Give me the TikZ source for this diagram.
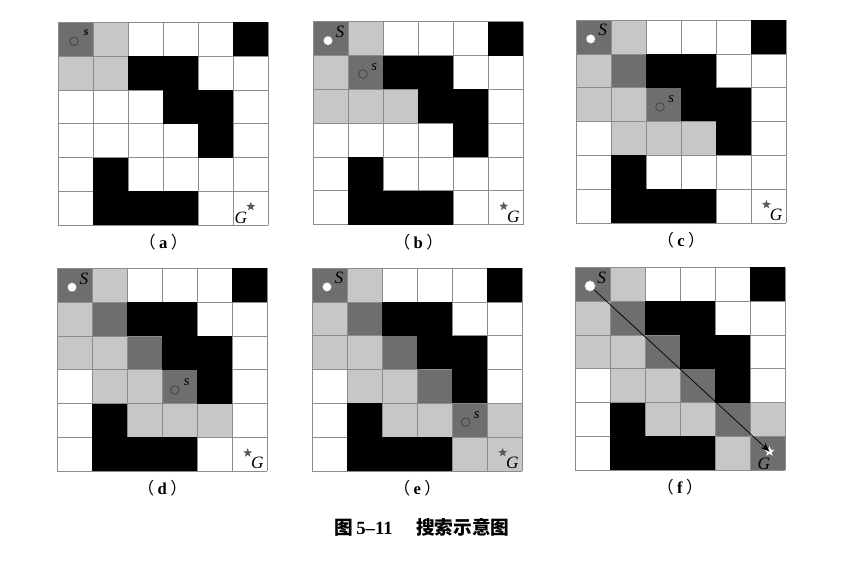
\documentclass[tikz,border=0pt]{standalone}
\usepackage{fontspec}
\setmainfont{Liberation Serif}
\newfontfamily\cjk{Noto Sans CJK SC}
\usetikzlibrary{arrows.meta,shapes.geometric}

% cell (c,r) plus an offset (u,v) inside it, in pixels of the grid
\newcommand{\cellxy}[4]{({(#1+#3)*35},{(#2+#4)*33.8})}

% one search grid: name, top-left corner, dark cells, light cells, markers
\newcommand{\searchgrid}[5]{%
  \begin{scope}[shift={#2}]
    \foreach \r/\c in {#3}
      \fill[trail] (\c*35,\r*33.8) rectangle ++(35,33.8);
    \foreach \r/\c in {#4}
      \fill[seen] (\c*35,\r*33.8) rectangle ++(35,33.8);
    \foreach \i in {0,...,6} {
      \draw[gridln] (\i*35,0) -- (\i*35,202.8);
      \draw[gridln] (0,\i*33.8) -- (210,\i*33.8);
    }
    \foreach \r/\c in {0/5,1/2,1/3,2/3,2/4,3/4,4/1,5/1,5/2,5/3}
      \fill[wall] (\c*35,\r*33.8) rectangle ++(35,33.8);
    #5
    \node[sub] (#1-lab) at (105,220)
         {{\cjk （}\hspace{2.5pt}\textbf{#1}\hspace{2.5pt}{\cjk ）}};
  \end{scope}}

\begin{document}
\begin{tikzpicture}[x=0.75pt, y=-0.75pt,
  wall/.style={fill=black},
  trail/.style={fill=black!57},
  seen/.style={fill=black!22},
  gridln/.style={draw=black!45, line width=0.4pt},
  start/.style={circle, draw=black!50, fill=white, line width=0.3pt,
                inner sep=0pt, minimum size=7pt},
  cur/.style={circle, draw=black!80, line width=0.4pt, inner sep=0pt,
              minimum size=6.5pt},
  goal/.style={star, star points=5, star point ratio=2.4, fill=black!65,
               inner sep=0pt, minimum size=7pt},
  lab/.style={font=\fontsize{13}{13}\selectfont\itshape, inner sep=0pt},
  small/.style={font=\fontsize{11}{11}\selectfont\itshape, inner sep=0pt},
  sub/.style={font=\fontsize{12.5}{12.5}\selectfont, inner sep=0pt},
  arr/.style={-{Stealth[length=2.4mm,width=1.8mm]}, line width=0.55pt}]

\useasboundingbox (0,0) rectangle (868,565);

% ------------------------------------------------------------------ (a)
\searchgrid{a}{(58.3,22.3)}{0/0}{0/1,1/0,1/1}{
  \node[cur] (a-cur) at \cellxy{0}{0}{.45}{.56} {};
  \node[small, font=\fontsize{9}{9}\selectfont\bfseries\itshape] (a-s)
       at \cellxy{0}{0}{.8}{.3} {s};
  \node[goal] (a-goal) at \cellxy{5}{5}{.5}{.45} {};
  \node[lab] (a-g) at \cellxy{5}{5}{.22}{.78} {G};
}

% ------------------------------------------------------------------ (b)
\searchgrid{b}{(313.3,21.7)}{0/0,1/1}{0/1,1/0,2/0,2/1,2/2}{
  \node[start] (b-start) at \cellxy{0}{0}{.42}{.56} {};
  \node[lab] (b-S) at \cellxy{0}{0}{.76}{.3} {S};
  \node[cur] (b-cur) at \cellxy{1}{1}{.42}{.55} {};
  \node[small] (b-s) at \cellxy{1}{1}{.74}{.35} {s};
  \node[goal] (b-goal) at \cellxy{5}{5}{.44}{.46} {};
  \node[lab] (b-g) at \cellxy{5}{5}{.72}{.76} {G};
}

% ------------------------------------------------------------------ (c)
\searchgrid{c}{(576,20)}{0/0,1/1,2/2}{0/1,1/0,2/0,2/1,3/1,3/2,3/3}{
  \node[start] (c-start) at \cellxy{0}{0}{.42}{.56} {};
  \node[lab] (c-S) at \cellxy{0}{0}{.76}{.3} {S};
  \node[cur] (c-cur) at \cellxy{2}{2}{.4}{.57} {};
  \node[small] (c-s) at \cellxy{2}{2}{.72}{.35} {s};
  \node[goal] (c-goal) at \cellxy{5}{5}{.44}{.46} {};
  \node[lab] (c-g) at \cellxy{5}{5}{.72}{.76} {G};
}

% ------------------------------------------------------------------ (d)
\searchgrid{d}{(57.3,268.3)}{0/0,1/1,2/2,3/3}{0/1,1/0,2/0,2/1,3/1,3/2,4/2,4/3,4/4}{
  \node[start] (d-start) at \cellxy{0}{0}{.42}{.56} {};
  \node[lab] (d-S) at \cellxy{0}{0}{.76}{.3} {S};
  \node[cur] (d-cur) at \cellxy{3}{3}{.36}{.6} {};
  \node[small] (d-s) at \cellxy{3}{3}{.7}{.38} {s};
  \node[goal] (d-goal) at \cellxy{5}{5}{.44}{.46} {};
  \node[lab] (d-g) at \cellxy{5}{5}{.72}{.76} {G};
}

% ------------------------------------------------------------------ (e)
\searchgrid{e}{(312.3,268)}{0/0,1/1,2/2,3/3,4/4}{0/1,1/0,2/0,2/1,3/1,3/2,4/2,4/3,4/5,5/4,5/5}{
  \node[start] (e-start) at \cellxy{0}{0}{.42}{.56} {};
  \node[lab] (e-S) at \cellxy{0}{0}{.76}{.3} {S};
  \node[cur] (e-cur) at \cellxy{4}{4}{.38}{.56} {};
  \node[small] (e-s) at \cellxy{4}{4}{.7}{.36} {s};
  \node[goal] (e-goal) at \cellxy{5}{5}{.44}{.46} {};
  \node[lab] (e-g) at \cellxy{5}{5}{.72}{.76} {G};
}

% ------------------------------------------------------------------ (f)
\searchgrid{f}{(575,267.3)}{0/0,1/1,2/2,3/3,4/4,5/5}{0/1,1/0,2/0,2/1,3/1,3/2,4/2,4/3,4/5,5/4}{
  \node[lab] (f-S) at \cellxy{0}{0}{.76}{.3} {S};
  \node[lab] (f-g) at \cellxy{5}{5}{.4}{.8} {G};
}
\node[start, minimum size=8pt] (f-start) at (590,286) {};
\node[goal, fill=white, minimum size=8pt] (f-goal) at (769.5,451.5) {};
\draw[arr] (f-start.center) -- (f-goal.center);
\node[start, minimum size=8pt] at (f-start) {};

% ---------------------------------------------------------------- caption
\node[font=\fontsize{14}{14}\selectfont\bfseries, inner sep=0pt] (caption) at (422,527)
     {{\cjk 图}\,5\textendash11\quad\ {\cjk 搜索示意图}};

\end{tikzpicture}
\end{document}
